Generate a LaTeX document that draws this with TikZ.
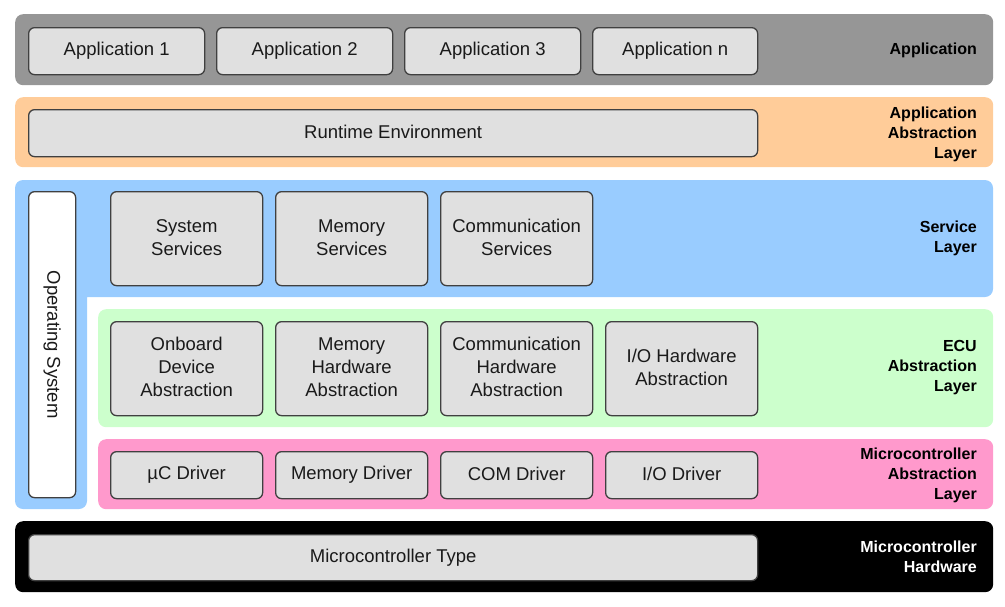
\documentclass[tikz,border=0pt]{standalone}
\usepackage{fontspec}
\setmainfont{Liberation Sans}
\newcommand{\boxstrut}{\rule[-3pt]{0pt}{16pt}}
\newcommand{\lblstrut}{\rule[-2.5pt]{0pt}{14pt}}
\begin{document}
\begin{tikzpicture}[x=1pt,y=-1pt,
  band/.style={rounded corners=8pt, inner sep=0pt, anchor=north west},
  box/.style={draw=boxline, fill=boxfill, rounded corners=6pt, line width=1.3pt, inner sep=0pt, anchor=north west, text=boxtext, align=center, font=\fontsize{18.5}{23}\selectfont, execute at begin node=\boxstrut, execute at end node=\boxstrut},
  lbl/.style={anchor=east, align=right, inner sep=0pt, font=\fontsize{16}{20}\selectfont\bfseries, execute at begin node=\lblstrut, execute at end node=\lblstrut}
]
\definecolor{boxline}{HTML}{404040}
\definecolor{boxfill}{HTML}{E0E0E0}
\definecolor{boxtext}{HTML}{1A1A1A}
\definecolor{appgray}{HTML}{969696}
\definecolor{aalorange}{HTML}{FFCC99}
\definecolor{svcblue}{HTML}{99CCFF}
\definecolor{ecugreen}{HTML}{CCFFCC}
\definecolor{mcalpink}{HTML}{FF99CC}
\useasboundingbox (0,0) rectangle (1005,606);
% bands
\node[band, fill=appgray, minimum width=978pt, minimum height=71pt] (appband) at (15,14) {};
\node[band, fill=aalorange, minimum width=978pt, minimum height=70pt] (aalband) at (15,97) {};
\fill[svcblue] (15,190) [rounded corners=8pt] -- (15,180) -- (993,180) -- (993,297) [sharp corners] -- (87,297) [rounded corners=8pt] -- (87,509) -- (15,509) -- (15,190);
\node[band, fill=ecugreen, minimum width=895pt, minimum height=118pt] (ecuband) at (98,309) {};
\node[band, fill=mcalpink, minimum width=895pt, minimum height=70pt] (mcalband) at (98,439) {};
\node[band, fill=black, minimum width=978pt, minimum height=71pt] (hwband) at (15,521) {};
% labels
\node[lbl] (lapp) at (977,50) {Application};
\node[lbl] (laal) at (977,134) {Application\\Abstraction\\Layer};
\node[lbl] (lsvc) at (977,238) {Service\\Layer};
\node[lbl] (lecu) at (977,368) {ECU\\Abstraction\\Layer};
\node[lbl] (lmcal) at (977,475) {Microcontroller\\Abstraction\\Layer};
\node[lbl, text=white] (lhw) at (977,558) {Microcontroller\\Hardware};
% application boxes
\node[box, minimum width=176pt, minimum height=47pt] (app1) at (28,27) {Application 1};
\node[box, minimum width=176pt, minimum height=47pt] (app2) at (216,27) {Application 2};
\node[box, minimum width=176pt, minimum height=47pt] (app3) at (404,27) {Application 3};
\node[box, minimum width=165pt, minimum height=47pt] (appn) at (592,27) {Application n};
% RTE
\node[box, minimum width=729pt, minimum height=47pt] (rte) at (28,109) {Runtime Environment};
% OS
\node[box, fill=white, minimum width=47pt, minimum height=306pt] (os) at (28,191) {};
\node[rotate=-90, text=boxtext, font=\fontsize{18.5}{23}\selectfont, inner sep=0pt, execute at begin node=\boxstrut] (ostext) at (os.center) {Operating System};
% services
\node[box, minimum width=152pt, minimum height=94pt] (sys) at (110,191) {System\\Services};
\node[box, minimum width=152pt, minimum height=94pt] (mems) at (275,191) {Memory\\Services};
\node[box, minimum width=152pt, minimum height=94pt] (coms) at (440,191) {Communication\\Services};
% ECU abstraction
\node[box, minimum width=152pt, minimum height=94pt] (onb) at (110,321) {Onboard\\Device\\Abstraction};
\node[box, minimum width=152pt, minimum height=94pt] (memh) at (275,321) {Memory\\Hardware\\Abstraction};
\node[box, minimum width=152pt, minimum height=94pt] (comh) at (440,321) {Communication\\Hardware\\Abstraction};
\node[box, minimum width=152pt, minimum height=94pt] (ioh) at (605,321) {I/O Hardware\\Abstraction};
% drivers
\node[box, minimum width=152pt, minimum height=47pt] (ucd) at (110,451) {µC Driver};
\node[box, minimum width=152pt, minimum height=47pt] (memd) at (275,451) {Memory Driver};
\node[box, minimum width=152pt, minimum height=47pt] (comd) at (440,451) {COM Driver};
\node[box, minimum width=152pt, minimum height=47pt] (iod) at (605,451) {I/O Driver};
% hardware
\node[box, minimum width=729pt, minimum height=46pt] (mct) at (28,534) {Microcontroller Type};
\end{tikzpicture}
\end{document}
